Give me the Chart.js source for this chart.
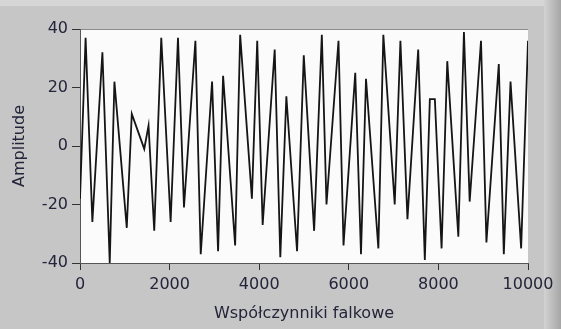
<!DOCTYPE html>
<html>
<head>
<meta charset="utf-8">
<script src="https://cdn.jsdelivr.net/npm/chart.js@4"></script>
<style>
  html, body { margin: 0; padding: 0; background: #c6c6c6; }
  #wrap { width: 561px; height: 329px; }
</style>
</head>
<body>
<div id="wrap"><canvas id="waveChart" width="561" height="329"></canvas></div>
<script>
// Współczynniki falkowe (ekstrema kolejnych okresów)
const coefIndex = [0, 125, 276, 500, 664, 768, 1044, 1156, 1434, 1530,
  1657, 1814, 2023, 2187, 2321, 2576, 2695, 2948, 3082, 3194,
  3463, 3575, 3837, 3956, 4077, 4346, 4471, 4606, 4845, 4995,
  5226, 5398, 5502, 5770, 5882, 6144, 6272, 6384, 6660, 6771,
  7025, 7152, 7309, 7549, 7697, 7809, 7921, 8071, 8198, 8445,
  8570, 8698, 8951, 9072, 9348, 9460, 9610, 9847, 10000];
const amplitude = [-18, 37, -26, 32, -40, 22, -28, 11, -1, 7,
  -29, 37, -26, 37, -21, 36, -37, 22, -36, 24,
  -34, 38, -18, 36, -27, 33, -38, 17, -36, 31,
  -29, 38, -20, 36, -34, 25, -37, 23, -35, 38,
  -20, 36, -25, 33, -39, 16, 16, -35, 29, -31,
  39, -19, 36, -33, 28, -37, 22, -35, 36];
const xTicks = [0, 2000, 4000, 6000, 8000, 10000];
const yTicks = [-40, -20, 0, 20, 40];

const points = coefIndex.map((x, i) => ({ x: x, y: amplitude[i] }));
const textColor = '#24243a';
const font = { family: 'DejaVu Sans', size: 16 };

// tło panelu i białe pole wykresu
const panel = {
  id: 'panel',
  beforeDraw(chart) {
    const { ctx, chartArea: a, width, height } = chart;
    ctx.save();
    ctx.fillStyle = '#c6c6c6';
    ctx.fillRect(0, 0, width, height);
    ctx.fillStyle = '#d6d6d6';
    ctx.fillRect(0, 0, width, 6);
    const g = ctx.createLinearGradient(544, 0, width, 0);
    g.addColorStop(0, '#d2d2d2');
    g.addColorStop(1, '#a6a6a6');
    ctx.fillStyle = g;
    ctx.fillRect(544, 0, width - 544, height);
    ctx.fillStyle = '#fbfbfb';
    ctx.fillRect(a.left, a.top, a.right - a.left, a.bottom - a.top);
    ctx.strokeStyle = '#8c8c8c';
    ctx.lineWidth = 1;
    ctx.beginPath();
    ctx.moveTo(a.left, a.top + 0.5);
    ctx.lineTo(a.right, a.top + 0.5);
    ctx.stroke();
    ctx.restore();
  }
};

new Chart(document.getElementById('waveChart').getContext('2d'), {
  type: 'line',
  data: {
    datasets: [{
      data: points,
      borderColor: '#151515',
      borderWidth: 1.8,
      pointRadius: 0,
      tension: 0,
      fill: false
    }]
  },
  options: {
    responsive: false,
    animation: false,
    layout: { padding: { left: 0, top: 29, right: 33, bottom: 0 } },
    plugins: { legend: { display: false }, tooltip: { enabled: false } },
    scales: {
      x: {
        type: 'linear',
        min: 0,
        max: 10000,
        afterFit: s => { s.height = 66; },
        afterBuildTicks: s => { s.ticks = xTicks.map(v => ({ value: v })); },
        ticks: { color: textColor, font: font, padding: 5, maxRotation: 0, callback: v => String(v) },
        grid: { drawOnChartArea: false, tickLength: 7, color: '#333' },
        border: { color: '#555', width: 1 },
        title: {
          display: true,
          text: 'Współczynniki falkowe',
          color: textColor,
          font: font,
          padding: { top: 0, bottom: 6 }
        }
      },
      y: {
        min: -40,
        max: 40,
        afterFit: s => { s.width = 80; },
        afterBuildTicks: s => { s.ticks = yTicks.map(v => ({ value: v })); },
        ticks: { color: textColor, font: font, padding: 4, callback: v => String(v) },
        grid: { drawOnChartArea: false, tickLength: 8, color: '#333' },
        border: { color: '#555', width: 1 },
        title: {
          display: true,
          text: 'Amplitude',
          color: textColor,
          font: font,
          padding: { top: 10, bottom: 0 }
        }
      }
    }
  },
  plugins: [panel]
});
</script>
</body>
</html>
